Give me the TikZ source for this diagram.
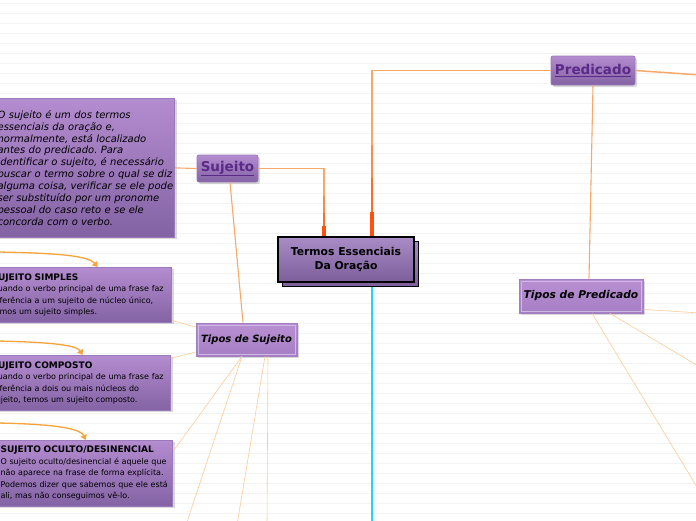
\documentclass[tikz,border=0pt]{standalone}
\usepackage{fontspec}
\setmainfont{DejaVu Sans}
\usetikzlibrary{shadows,calc,arrows.meta}
\definecolor{bgline}{HTML}{F3F3F3}
\definecolor{pTop}{HTML}{B48CD0}
\definecolor{pBot}{HTML}{8363A4}
\definecolor{pEdge}{HTML}{9A7AB8}
\definecolor{cTop}{HTML}{A98BC6}
\definecolor{cBot}{HTML}{7C5E9A}
\definecolor{tTop}{HTML}{B890D2}
\definecolor{tBot}{HTML}{A67EC4}
\definecolor{tEdge}{HTML}{A27FC0}
\definecolor{tInner}{HTML}{D0B8E6}
\definecolor{labPurple}{HTML}{5B2A88}
\definecolor{branch}{HTML}{F8A868}
\definecolor{thin}{HTML}{FCCB98}
\definecolor{curve}{HTML}{F7A33A}
\definecolor{cyanline}{HTML}{1FD6F4}
\definecolor{oA}{HTML}{FA8C48}
\definecolor{oB}{HTML}{FC6E28}
\definecolor{oC}{HTML}{FF5010}
\newcommand\tline[1]{\mbox{#1}}
\newcommand\ulx[1]{\leavevmode\vtop{\hbox{#1}\kern1pt\hrule height 1.3pt}}
\frenchspacing
\begin{document}
\begin{tikzpicture}[x=1pt,y=-1pt,
  conn/.style={draw=branch,line width=1.1pt},
  twig/.style={draw=thin,line width=0.6pt},
  bgrule/.style={draw=bgline,line width=0.7pt},
  softshadow/.style={drop shadow={shadow xshift=2pt,shadow yshift=-2pt,opacity=0.3}},
  descbox/.style={draw=pEdge,line width=0.8pt,top color=pTop,bottom color=pBot,anchor=north east,inner ysep=0pt,align=left,text=black,softshadow},
  topicbox/.style={draw=pEdge,line width=0.8pt,top color=pTop,bottom color=pBot,rounded corners=2pt,inner sep=0pt,text=labPurple,font=\bfseries\fontsize{13.5}{16}\selectfont,softshadow},
  typebox/.style={draw=tEdge,line width=0.8pt,top color=tTop,bottom color=tBot,inner sep=0pt,text=black,softshadow},
  centralbox/.style={draw=black,line width=1.2pt,top color=cTop,bottom color=cBot,minimum width=136pt,minimum height=45pt,inner sep=0pt,align=center,font=\bfseries\fontsize{10.8}{14}\selectfont},
  curvearrow/.style={draw=curve,line width=1.3pt,-{Triangle[length=5pt,width=6.5pt]}},
]
\fill[white] (0,0) rectangle (696,520);
\useasboundingbox (0,0) rectangle (696,520);
\foreach \yy in {3,13,...,513} \draw[bgrule] (0,\yy) -- (696,\yy);

% central
\node[centralbox] (ces) at (350.5,264) {};
\node[centralbox] (ce) at (346,259.5) {Termos Essenciais\\Da Oração};

% main topics
\node[topicbox,minimum width=61pt,minimum height=27pt] (su) at (227.5,168.5) {\ulx{Sujeito}};
\node[topicbox,minimum width=84pt,minimum height=29pt] (pr) at (593,70.5) {\ulx{Predicado}};

% type boxes
\node[typebox,minimum width=101pt,minimum height=33pt,font=\bfseries\itshape\fontsize{10}{12}\selectfont] (ts) at (246.5,339.5) {Tipos de Sujeito};
\node[typebox,minimum width=124pt,minimum height=34pt,font=\bfseries\itshape\fontsize{10.7}{12}\selectfont] (tp) at (581,296) {Tipos de Predicado};
\draw[tInner,line width=0.8pt] ([shift={(2.5,2.5)}]ts.north west) rectangle ([shift={(-2.5,-2.5)}]ts.south east);
\draw[tInner,line width=0.8pt] ([shift={(2.5,2.5)}]tp.north west) rectangle ([shift={(-2.5,-2.5)}]tp.south east);

% description box
\node[descbox,inner xsep=1pt,text width=176pt,minimum height=139pt,font=\itshape\fontsize{10}{11.9}\selectfont] (de) at (175,98)
{\tline{O sujeito é um dos termos}\\
\tline{essenciais da oração e,}\\
\tline{normalmente, está localizado}\\
\tline{antes do predicado. Para}\\
\tline{identificar o sujeito, é necessário}\\
\tline{buscar o termo sobre o qual se diz}\\
\tline{alguma coisa, verificar se ele pode}\\
\tline{ser substituído por um pronome}\\
\tline{pessoal do caso reto e se ele}\\
\tline{concorda com o verbo.}};

\node[descbox,inner xsep=1pt,text width=179pt,minimum height=55pt,font=\fontsize{8}{11.5}\selectfont] (si) at (172,267)
{{\bfseries\fontsize{9}{12}\selectfont\tline{SUJEITO SIMPLES}}\\
\tline{Quando o verbo principal de uma frase faz}\\
\tline{referência a um sujeito de núcleo único,}\\
\tline{temos um sujeito simples.}};

\node[descbox,inner xsep=1pt,text width=178pt,minimum height=55pt,font=\fontsize{8}{11.5}\selectfont] (co) at (171,355)
{{\bfseries\fontsize{9}{12}\selectfont\tline{SUJEITO COMPOSTO}}\\
\tline{Quando o verbo principal de uma frase faz}\\
\tline{referência a dois ou mais núcleos do}\\
\tline{sujeito, temos um sujeito composto.}};

\node[descbox,inner xsep=4pt,text width=168pt,minimum height=66pt,font=\fontsize{8}{11.5}\selectfont] (oc) at (173,440)
{{\bfseries\fontsize{9}{12}\selectfont\tline{SUJEITO OCULTO/DESINENCIAL}}\\
\tline{O sujeito oculto/desinencial é aquele que}\\
\tline{não aparece na frase de forma explícita.}\\
\tline{Podemos dizer que sabemos que ele está}\\
\tline{ali, mas não conseguimos vê-lo.}};

% free ends
\coordinate (prR) at (700,75);
\coordinate (tpR) at (700,313);
\coordinate (tpA) at (700,367);
\coordinate (tpB) at (700,492);
\coordinate (tsA) at (186,525);
\coordinate (tsB) at (237,525);
\coordinate (tsC) at (267,525);
\coordinate (ar1) at (-2,252);
\coordinate (ar2) at (-2,341);
\coordinate (ar3) at (-2,423);

% central connectors
\coordinate (cA) at ([xshift=-22pt]ce.north);
\coordinate (cB) at ([xshift=26pt]ce.north);
\coordinate (sA) at (cA |- su.east);
\coordinate (pB) at (cB |- pr.west);
\draw[conn] (su.east) -| (cA);
\draw[oA,line width=1.8pt] ($(cA)!0.6!(sA)$) -- ($(cA)!0.35!(sA)$);
\draw[oB,line width=2.6pt] ($(cA)!0.35!(sA)$) -- ($(cA)!0.15!(sA)$);
\draw[oC,line width=3.3pt] ($(cA)!0.15!(sA)$) -- (cA);
\draw[conn] (pr.west) -| (cB);
\draw[oA,line width=1.8pt] ($(cB)!0.55!(pB)$) -- ($(cB)!0.35!(pB)$);
\draw[oB,line width=2.6pt] ($(cB)!0.35!(pB)$) -- ($(cB)!0.15!(pB)$);
\draw[oC,line width=3.3pt] ($(cB)!0.15!(pB)$) -- (cB);
\draw[cyanline,line width=2.8pt] (cB |- ces.south) -- (cB |- tsA);

% topic connectors
\draw[conn,line width=1.5pt] (pr.east) -- (prR);
\draw[conn] (pr.south) -- ([xshift=8pt]tp.north);
\draw[conn] (su.west) -- (de.east);
\draw[conn] ([xshift=2.5pt]su.south) -- ([xshift=-3.5pt]ts.north);

% twigs
\draw[twig] ([yshift=4pt]tp.south east) -- (tpR);
\draw[twig] ([xshift=29pt]tp.south) -- (tpA);
\draw[twig] ([xshift=11pt]tp.south) -- (tpB);
\draw[twig] ([yshift=12.5pt]ts.west) -- ([yshift=-25.5pt]si.east);
\draw[twig] ([yshift=-12.5pt]ts.west) -- ([yshift=24.5pt]co.east);
\draw[twig] ([xshift=-4.5pt]ts.south) -- ([yshift=22pt]oc.east);
\draw[twig] ([xshift=-4.5pt]ts.south) -- (tsA);
\draw[twig] ([xshift=18.5pt]ts.south) -- (tsB);
\draw[twig] ([xshift=21.5pt]ts.south) -- (tsC);

% incoming curved arrows
\draw[curvearrow] (ar1) .. controls (50,253) and (88,255) .. ([xshift=16.5pt]si.north);
\draw[curvearrow] (ar2) .. controls (40,342) and (76,344) .. ([xshift=2pt]co.north);
\draw[curvearrow] (ar3) .. controls (45,424) and (80,427) .. ([xshift=1pt]oc.north);
\end{tikzpicture}
\end{document}
